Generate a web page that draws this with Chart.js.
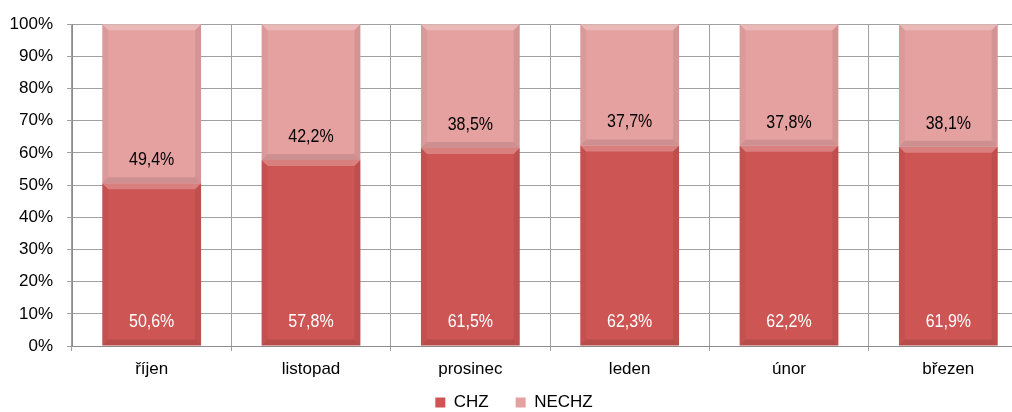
<!DOCTYPE html>
<html>
<head>
<meta charset="utf-8">
<script src="https://cdn.jsdelivr.net/npm/chart.js@4/dist/chart.umd.min.js"></script>
<style>
    body { margin: 0; overflow: hidden; background: #fff; }
    canvas { display: block; }
</style>
</head>
<body>
<canvas id="chart" width="1028" height="412"></canvas>
<script>
// ----- DATA -----
const months = ['říjen', 'listopad', 'prosinec', 'leden', 'únor', 'březen'];
const chzValues = [50.6, 57.8, 61.5, 62.3, 62.2, 61.9];
const nechzValues = [49.4, 42.2, 38.5, 37.7, 37.8, 38.1];
const seriesNames = ['CHZ', 'NECHZ'];
const yTicks = [0, 10, 20, 30, 40, 50, 60, 70, 80, 90, 100];

const FONT = "'Liberation Sans', Arial, sans-serif";

// bevel look on each bar
const bevelPlugin = {
    id: 'bevel',
    afterDatasetsDraw(chart) {
        const ctx = chart.ctx;
        const b = 6;
        ctx.save();
        chart.data.datasets.forEach((ds, i) => {
            chart.getDatasetMeta(i).data.forEach(el => {
                const p = el.getProps(['x', 'y', 'base', 'width'], true);
                const l = p.x - p.width / 2, r = p.x + p.width / 2;
                const t = Math.min(p.y, p.base), bt = Math.max(p.y, p.base);
                const poly = (pts, color) => {
                    ctx.beginPath();
                    ctx.moveTo(pts[0][0], pts[0][1]);
                    pts.slice(1).forEach(q => ctx.lineTo(q[0], q[1]));
                    ctx.closePath();
                    ctx.fillStyle = color;
                    ctx.fill();
                };
                poly([[l, t], [r, t], [r - b, t + b], [l + b, t + b]], 'rgba(255,255,255,0.25)');
                poly([[l, t], [l + b, t + b], [l + b, bt - b], [l, bt]], 'rgba(0,0,0,0.04)');
                poly([[r, t], [r - b, t + b], [r - b, bt - b], [r, bt]], 'rgba(0,0,0,0.07)');
                poly([[l, bt], [l + b, bt - b], [r - b, bt - b], [r, bt]], 'rgba(0,0,0,0.10)');
            });
        });
        ctx.restore();
    }
};

// value labels inside the segments (text is a bit taller than wide in the original)
const labelPlugin = {
    id: 'valueLabels',
    afterDatasetsDraw(chart) {
        const ctx = chart.ctx;
        ctx.save();
        ctx.font = '16px ' + FONT;
        ctx.textAlign = 'center';
        ctx.textBaseline = 'middle';
        chart.data.datasets.forEach((ds, i) => {
            ctx.fillStyle = i === 0 ? '#ffffff' : '#000000';
            chart.getDatasetMeta(i).data.forEach((el, j) => {
                const p = el.getProps(['x', 'base'], true);
                const txt = ds.data[j].toFixed(1).replace('.', ',') + '%';
                ctx.save();
                ctx.translate(p.x, p.base - 23);
                ctx.scale(1, 1.1);
                ctx.fillText(txt, 0, 0);
                ctx.restore();
            });
        });
        ctx.restore();
    }
};

// keep the legend short so it sits at the very bottom
const legendFit = {
    id: 'legendFit',
    beforeInit(chart) {
        const fit = chart.legend.fit;
        chart.legend.fit = function () {
            fit.bind(chart.legend)();
            this.height = 26;
        };
    }
};

new Chart(document.getElementById('chart'), {
    type: 'bar',
    data: {
        labels: months,
        datasets: [
            { label: seriesNames[0] + '    ', data: chzValues, backgroundColor: '#CD5553', borderWidth: 0, barPercentage: 1, categoryPercentage: 0.62 },
            { label: seriesNames[1], data: nechzValues, backgroundColor: '#E5A0A0', borderWidth: 0, barPercentage: 1, categoryPercentage: 0.62 }
        ]
    },
    options: {
        responsive: false,
        animation: false,
        devicePixelRatio: 1,
        layout: { padding: { top: 24, left: 0, right: 0, bottom: 0 } },
        plugins: {
            legend: {
                position: 'bottom',
                labels: { boxWidth: 10, boxHeight: 10, padding: 8, color: '#000', font: { family: FONT, size: 17 } }
            },
            tooltip: { enabled: false }
        },
        scales: {
            x: {
                stacked: true,
                afterFit: s => { s.height = 40; },
                grid: { color: '#A0A0A0', tickLength: 5, offset: true },
                border: { color: '#8C8C8C' },
                ticks: { color: '#000', padding: 8, font: { family: FONT, size: 17 } }
            },
            y: {
                stacked: true,
                min: 0,
                max: 100,
                afterFit: s => { s.width = 72; },
                afterBuildTicks: s => { s.ticks = yTicks.map(v => ({ value: v })); },
                grid: { color: '#A0A0A0', tickLength: 5 },
                border: { color: '#8C8C8C' },
                ticks: { color: '#000', padding: 14, font: { family: FONT, size: 17 }, callback: v => v + '%' }
            }
        }
    },
    plugins: [bevelPlugin, labelPlugin, legendFit]
});
</script>
</body>
</html>
